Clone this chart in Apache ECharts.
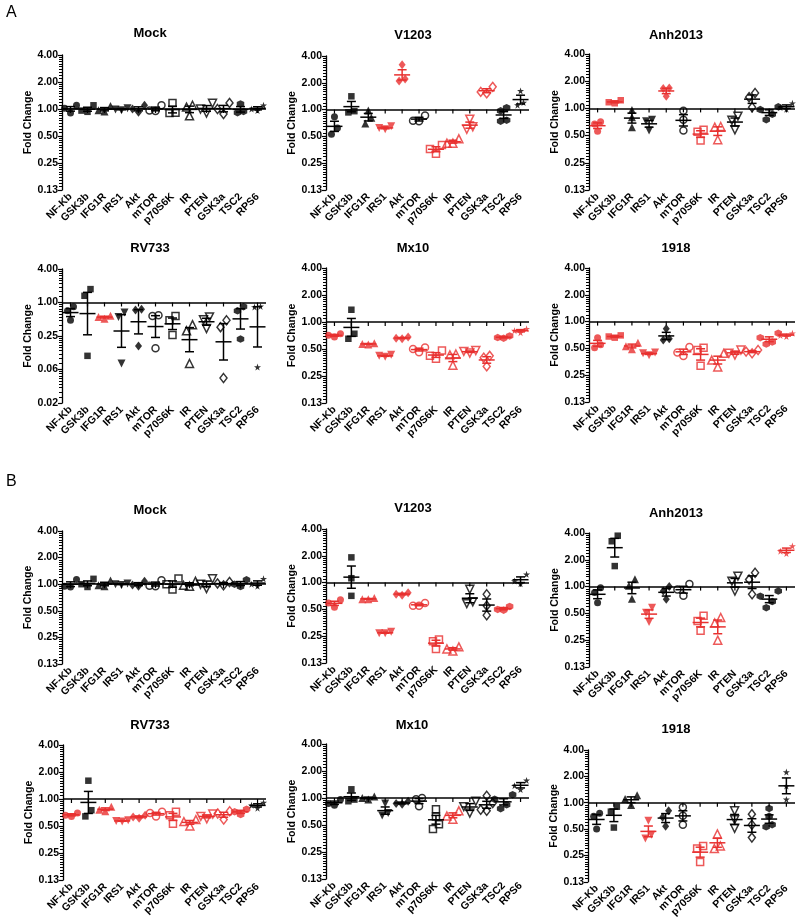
<!DOCTYPE html>
<html><head><meta charset="utf-8">
<script src="https://cdn.jsdelivr.net/npm/echarts@6/dist/echarts.min.js"></script>
<style>html,body{margin:0;padding:0;background:#fff}#c{width:796px;height:920px}</style>
</head><body><div id="c"></div>
<script>
const categories = ['NF-Kb','GSK3b','IFG1R','IRS1','Akt','mTOR','p70S6K','IR','PTEN','GSK3a','TSC2','RPS6'];
const panelTitles = ['Mock','V1203','Anh2013','RV733','Mx10','1918','Mock','V1203','Anh2013','RV733','Mx10','1918'];

const yTicksStd = [0.125, 0.25, 0.5, 1, 2, 4];
const yLabelsStd = ['0.13','0.25','0.50','1.00','2.00','4.00'];
const yTicksWide = [0.015625, 0.0625, 0.25, 1, 4];
const yLabelsWide = ['0.02','0.06','0.25','1.00','4.00'];

const A_Mock = [[0.90,1.02,1.10],[0.93,1.10,0.96],[1.08,0.94,0.97],[1.02,0.97,0.99],[1.10,1.00,0.92],[1.10,0.95,0.96],[1.17,0.90,0.91],[0.84,1.10,1.05],[1.16,0.90,1.00],[1.17,0.88,1.00],[1.14,0.91,0.94],[1.10,0.96,1.00]];
const A_Mock_red = [0,0,0,0,0,0,0,0,0,0,0,0];
const A_V1203 = [[0.83,0.62,0.53],[1.41,0.96,0.93],[0.98,0.81,0.70],[0.65,0.62,0.60],[3.2,2.2,2.1],[0.86,0.75,0.74],[0.32,0.36,0.40],[0.47,0.42,0.42],[0.78,0.60,0.64],[1.80,1.58,1.52],[1.05,0.97,0.76,0.74],[1.62,1.20,1.12]];
const A_V1203_red = [0,0,0,1,1,0,1,1,1,1,0,0];
const A_Anh2013 = [[0.71,0.67,0.56],[1.23,1.17,1.14],[0.96,0.80,0.62],[0.75,0.72,0.57],[1.68,1.66,1.36],[0.94,0.75,0.57],[0.58,0.55,0.44],[0.63,0.62,0.45],[0.82,0.74,0.58],[1.48,1.33,1.03],[1.04,0.97,0.86,0.75],[1.14,1.02,0.98]];
const A_Anh2013_red = [1,1,0,0,1,0,1,1,0,0,0,0];
const A_RV733 = [[0.84,0.71,0.48],[1.74,1.32,0.11],[0.58,0.55,0.51],[0.66,0.55,0.08],[0.76,0.73,0.165],[0.59,0.57,0.15],[0.57,0.48,0.26],[0.40,0.31,0.08],[0.55,0.49,0.34],[0.48,0.36,0.044],[0.84,0.71,0.22],[0.85,0.83,0.069]];
const A_RV733_red = [0,0,1,0,0,0,0,0,0,0,0,0];
const A_Mx10 = [[0.74,0.68,0.71],[1.37,0.74,0.65],[0.58,0.56,0.57],[0.43,0.41,0.42],[0.68,0.65,0.66],[0.52,0.46,0.50],[0.48,0.39,0.42],[0.44,0.43,0.33],[0.48,0.47,0.45],[0.42,0.40,0.32],[0.70,0.67,0.66],[0.84,0.80,0.76]];
const A_Mx10_red = [1,0,1,1,1,1,1,1,1,1,1,1];
const A_1918 = [[0.66,0.51,0.55],[0.70,0.66,0.68],[0.58,0.49,0.53],[0.45,0.42,0.44],[0.83,0.64,0.62],[0.52,0.45,0.41],[0.51,0.48,0.32],[0.44,0.37,0.31],[0.48,0.42,0.44],[0.48,0.44,0.46],[0.74,0.66,0.59,0.56],[0.74,0.68,0.70]];
const A_1918_red = [1,1,1,1,0,1,1,1,1,1,1,1];
const B_Mock = [[1.13,0.95,0.93],[1.15,0.93,1.00],[1.10,0.95,0.97],[1.02,1.00,0.98],[1.08,0.98,0.95],[1.11,0.95,0.96],[1.16,0.87,1.00],[1.08,0.97,0.95],[1.15,0.89,1.00],[1.06,1.02,0.97],[1.12,1.00,0.94],[1.15,0.95,1.00]];
const B_Mock_red = [0,0,0,0,0,0,0,0,0,0,0,0];
const B_V1203 = [[0.64,0.59,0.53],[1.92,1.12,0.71],[0.67,0.65,0.65],[0.28,0.27,0.27],[0.77,0.74,0.72],[0.59,0.55,0.55],[0.23,0.22,0.18],[0.19,0.18,0.17],[0.84,0.61,0.58],[0.74,0.55,0.43],[0.54,0.50,0.49],[1.24,1.04,0.97]];
const B_V1203_red = [1,0,1,1,1,1,1,1,0,0,1,0];
const B_Anh2013 = [[0.97,0.86,0.66],[3.73,3.23,1.70],[1.21,1.02,0.73],[0.58,0.51,0.40],[1.00,0.89,0.72],[1.07,0.93,0.79],[0.47,0.41,0.32],[0.45,0.39,0.25],[1.31,1.15,0.89],[1.43,1.20,0.82],[0.89,0.78,0.68,0.58],[2.85,2.50,2.35]];
const B_Anh2013_red = [0,0,0,1,0,0,1,1,0,0,0,1];
const B_RV733 = [[0.70,0.66,0.64],[1.60,0.75,0.64],[0.82,0.76,0.73],[0.58,0.56,0.57],[0.66,0.61,0.63],[0.72,0.64,0.70],[0.72,0.66,0.53],[0.59,0.56,0.50],[0.68,0.64,0.60],[0.73,0.69,0.59],[0.77,0.72,0.67],[0.91,0.85,0.79]];
const B_RV733_red = [1,0,1,1,1,1,1,1,1,1,1,0];
const B_Mx10 = [[0.96,0.87,0.83],[1.25,0.96,0.92],[1.04,1.00,0.96],[0.87,0.68,0.64],[0.92,0.85,0.87],[1.00,0.97,0.81],[0.75,0.62,0.51,0.45],[0.72,0.63,0.58],[0.92,0.80,0.68],[1.06,0.88,0.74,0.72],[1.09,0.97,0.84,0.76],[1.57,1.37,1.24]];
const B_Mx10_red = [0,0,0,0,0,0,0,1,0,0,0,0];
const B_1918 = [[0.76,0.70,0.50],[0.90,0.79,0.52],[1.22,1.10,0.94],[0.62,0.43,0.39],[0.81,0.68,0.54],[0.89,0.71,0.56],[0.32,0.30,0.21],[0.44,0.32,0.30],[0.81,0.64,0.51],[0.74,0.56,0.40],[0.86,0.70,0.56,0.53],[2.24,1.55,1.09]];
const B_1918_red = [0,0,0,1,0,0,1,1,0,0,0,0];

const panelData = [A_Mock,A_V1203,A_Anh2013,A_RV733,A_Mx10,A_1918,B_Mock,B_V1203,B_Anh2013,B_RV733,B_Mx10,B_1918];
const panelRed = [A_Mock_red,A_V1203_red,A_Anh2013_red,A_RV733_red,A_Mx10_red,A_1918_red,B_Mock_red,B_V1203_red,B_Anh2013_red,B_RV733_red,B_Mx10_red,B_1918_red];
const panelWideAxis = [0,0,0,1,0,0,0,0,0,0,0,0];

// ---------- layout & style ----------
const FONT = 'Liberation Sans, Arial, sans-serif';
const RED = '#e8302f';
const grids = [
  {left:62, top:55, width:204, height:135},
  {left:326, top:56, width:203, height:134},
  {left:589, top:54, width:206, height:136},
  {left:62, top:269, width:204, height:134},
  {left:326, top:268, width:203, height:135},
  {left:589, top:268, width:206, height:134},
  {left:62, top:531, width:204, height:133},
  {left:326, top:529, width:203, height:134},
  {left:589, top:533, width:206, height:134},
  {left:63, top:745, width:203, height:135},
  {left:326, top:744, width:203, height:135},
  {left:588, top:750, width:207, height:133}
];
const titlePos = [[150,33],[413,35],[676,35],[150,248],[413,248],[676,248],[150,510],[413,508],[676,513],[150,725],[412,725],[676,729]];
const INV_TRI = 'path://M0,0L10,0L5,9Z';
const HEX = 'path://M5,0L9.33,2.5L9.33,7.5L5,10L0.67,7.5L0.67,2.5Z';
const STAR = 'path://M5,0L6.2,3.6L10,3.6L6.9,5.9L8.1,9.5L5,7.3L1.9,9.5L3.1,5.9L0,3.6L3.8,3.6Z';
const symbolDefs = [
  {s:'circle', size:7, open:false},
  {s:'rect', size:6.5, open:false},
  {s:'triangle', size:8, open:false},
  {s:INV_TRI, size:8, open:false},
  {s:'diamond', size:[7,9], open:false},
  {s:'circle', size:7, open:true},
  {s:'rect', size:7, open:true},
  {s:'triangle', size:8, open:true},
  {s:INV_TRI, size:8, open:true},
  {s:'diamond', size:[7,9], open:true},
  {s:HEX, size:7.5, open:false},
  {s:STAR, size:7, open:false}
];

function stats(vals){
  const l = vals.map(Math.log2), n = l.length;
  const m = l.reduce((a,b)=>a+b,0)/n;
  const sd = Math.sqrt(l.reduce((a,b)=>a+(b-m)*(b-m),0)/(n-1));
  const se = sd/Math.sqrt(n);
  return [Math.pow(2,m), Math.pow(2,m-se), Math.pow(2,m+se)];
}
const ODD_SLOTS = [0,-6,6,-12,12];
const EVEN_SLOTS = [-3,3,-9,9];
function jitter(vals, pxPerLog2){
  const idx = vals.map((v,i)=>i).sort((a,b)=>vals[a]-vals[b]);
  const off = vals.map(()=>0);
  let cluster = [idx[0]];
  const flush = ()=>{const k=cluster.length; const slots = k%2 ? ODD_SLOTS : EVEN_SLOTS; cluster.forEach((id,j)=>{off[id]=slots[j];});};
  for(let t=1;t<idx.length;t++){
    const d = (Math.log2(vals[idx[t]])-Math.log2(vals[idx[t-1]]))*pxPerLog2;
    if(d<7) cluster.push(idx[t]); else {flush(); cluster=[idx[t]];}
  }
  flush();
  return off;
}
function minorValues(ticks, parts){
  const out = [];
  for(let i=1;i<ticks.length;i++){
    const a = ticks[i-1], b = ticks[i];
    for(let j=1;j<parts;j++) out.push(a + (b-a)*j/parts);
  }
  return out;
}

const option = {animation:false, backgroundColor:'#fff', grid:[], xAxis:[], yAxis:[], series:[], graphic:[]};
option.graphic.push({type:'text', left:6, top:5, style:{text:'A', font:'16px '+FONT, fill:'#000'}});
option.graphic.push({type:'text', left:6, top:474, style:{text:'B', font:'16px '+FONT, fill:'#000'}});

panelData.forEach((data, k)=>{
  const g = grids[k];
  const wide = panelWideAxis[k];
  const ticks = wide ? yTicksWide : yTicksStd;
  const labels = wide ? yLabelsWide : yLabelsStd;
  const ymin = ticks[0], ymax = ticks[ticks.length-1];
  const base = wide ? 4 : 2;
  const pxPerLog2 = g.height / (Math.log2(ymax)-Math.log2(ymin));
  option.grid.push({left:g.left, top:g.top, width:g.width, height:g.height, containLabel:false});
  option.graphic.push({type:'text', x:titlePos[k][0], y:titlePos[k][1], style:{text:panelTitles[k], font:'bold 13px '+FONT, fill:'#000', align:'center', verticalAlign:'middle'}});
  option.xAxis.push({
    type:'category', gridIndex:k, data:categories, boundaryGap:true,
    axisLine:{show:false}, axisTick:{show:false}, splitLine:{show:false},
    axisLabel:{rotate:45, interval:0, margin:5, color:'#000', fontFamily:FONT, fontWeight:'bold', fontSize:10.5}
  });
  option.yAxis.push({
    type:'log', logBase:base, gridIndex:k, min:ymin, max:ymax, splitNumber:ticks.length-1,
    axisLine:{show:true, lineStyle:{color:'#000', width:1.3}},
    axisTick:{show:true, length:4, lineStyle:{color:'#000', width:1.2}},
    minorTick:{show:false},
    splitLine:{show:false}, minorSplitLine:{show:false},
    axisLabel:{color:'#000', fontFamily:FONT, fontWeight:'bold', fontSize:10.5, margin:4,
      formatter:(v)=>{let bi=0,bd=1e9; ticks.forEach((t,i)=>{const d=Math.abs(Math.log(t)-Math.log(v)); if(d<bd){bd=d;bi=i;}}); return labels[bi];}},
    name:'Fold Change', nameLocation:'middle', nameGap:28,
    nameTextStyle:{color:'#000', fontFamily:FONT, fontWeight:'bold', fontSize:10.5}
  });
  // minor ticks on the log axis
  option.series.push({
    type:'custom', xAxisIndex:k, yAxisIndex:k, silent:true, z:5, clip:false,
    data: minorValues(ticks, 10).map(v=>[0, v]),
    renderItem:(params, api)=>{
      const cs = params.coordSys;
      const p = api.coord([api.value(0), api.value(1)]);
      return {type:'line', shape:{x1:cs.x-3, y1:Math.round(p[1])+0.5, x2:cs.x, y2:Math.round(p[1])+0.5}, style:{stroke:'#000', lineWidth:1}};
    }
  });
  // reference line at 1 with category ticks
  option.series.push({
    type:'custom', xAxisIndex:k, yAxisIndex:k, silent:true, z:1,
    data: categories.map((c,i)=>[i,1]),
    renderItem:(params, api)=>{
      const p = api.coord([api.value(0), api.value(1)]);
      return {type:'line', shape:{x1:p[0], y1:p[1], x2:p[0], y2:p[1]+4}, style:{stroke:'#000', lineWidth:1.2}};
    },
    markLine:{silent:true, symbol:'none', label:{show:false}, data:[{yAxis:1}], lineStyle:{color:'#000', type:'solid', width:1.5}}
  });
  // points
  const pts = [];
  data.forEach((vals, i)=>{
    const sd = symbolDefs[i];
    const col = panelRed[k][i] ? RED : '#000';
    const off = jitter(vals, pxPerLog2);
    vals.forEach((v, j)=>{
      pts.push({
        value:[i, v], symbol:sd.s, symbolSize:sd.size, symbolOffset:[off[j],0],
        itemStyle: sd.open ? {color:'rgba(0,0,0,0)', borderColor:col, borderWidth:1.5} : {color:col, borderWidth:0}
      });
    });
  });
  option.series.push({type:'scatter', xAxisIndex:k, yAxisIndex:k, data:pts, z:3, silent:true});
  // geometric mean and SEM
  option.series.push({
    type:'custom', xAxisIndex:k, yAxisIndex:k, silent:true, z:4,
    data: data.map((vals,i)=>{const s=stats(vals); return [i, s[0], s[1], s[2], panelRed[k][i]];}),
    encode:{x:0, y:[1,2,3]},
    renderItem:(params, api)=>{
      const x = api.value(0);
      const pm = api.coord([x, api.value(1)]);
      const plo = api.coord([x, api.value(2)]);
      const phi = api.coord([x, api.value(3)]);
      const col = api.value(4) ? RED : '#000';
      const st = {stroke:col, lineWidth:1.5};
      return {type:'group', children:[
        {type:'line', shape:{x1:pm[0]-8, y1:pm[1], x2:pm[0]+8, y2:pm[1]}, style:st},
        {type:'line', shape:{x1:pm[0], y1:phi[1], x2:pm[0], y2:plo[1]}, style:st},
        {type:'line', shape:{x1:pm[0]-4.5, y1:phi[1], x2:pm[0]+4.5, y2:phi[1]}, style:st},
        {type:'line', shape:{x1:pm[0]-4.5, y1:plo[1], x2:pm[0]+4.5, y2:plo[1]}, style:st}
      ]};
    }
  });
});

const chart = echarts.init(document.getElementById('c'), null, {renderer:'canvas'});
chart.setOption(option);
</script></body></html>
